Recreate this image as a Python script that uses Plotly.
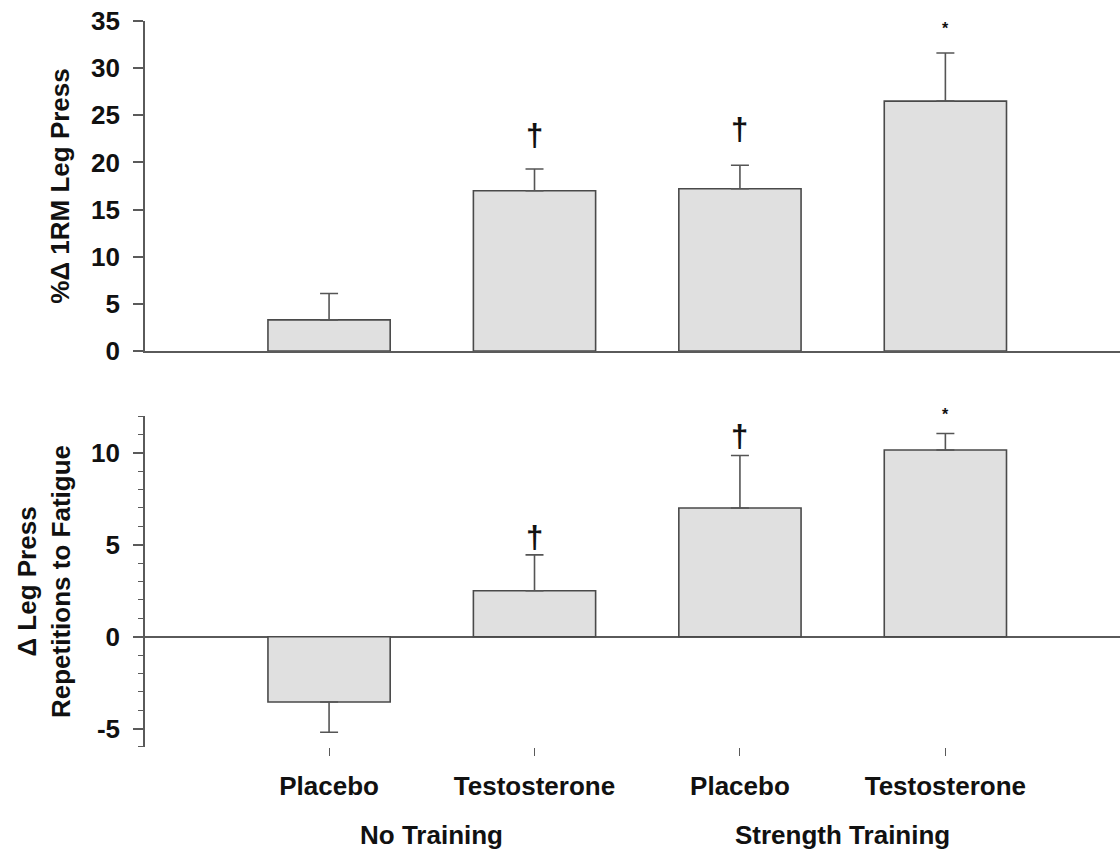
import plotly.graph_objects as go

# ---- data ----
categories = ["Placebo", "Testosterone", "Placebo", "Testosterone"]
groups = ["No Training", "Strength Training"]
rm_change = [3.3, 17.0, 17.2, 26.5]          # %Δ 1RM leg press
rm_err = [2.8, 2.3, 2.5, 5.1]
reps_change = [-3.55, 2.5, 7.0, 10.15]       # Δ repetitions to fatigue
reps_err = [1.65, 1.95, 2.85, 0.9]
rm_marks = ["", "†", "†", "*"]
reps_marks = ["", "†", "†", "*"]
reps_ticks = [-5, 0, 5, 10]
reps_ticktext = ["-5", "0", "5", "10"]

# ---- style ----
FONT = "Liberation Sans, Arial, sans-serif"
BAR_FILL = "#e0e0e0"
BAR_LINE = "#4a4a4a"
AX = "#5a5a5a"
FS = 26
mark_shift_top = [0, 14, 16, 14]
mark_shift_bot = [0, -2, 0, 8]

xs = list(range(len(categories)))


def up_err(vals, errs):
    return [e if v >= 0 else 0 for v, e in zip(vals, errs)]


def down_err(vals, errs):
    return [0 if v >= 0 else e for v, e in zip(vals, errs)]


fig = go.Figure()

fig.add_trace(go.Bar(
    x=xs, y=rm_change, width=0.595, xaxis="x", yaxis="y",
    marker=dict(color=BAR_FILL, line=dict(color=BAR_LINE, width=1.6)),
    error_y=dict(type="data", symmetric=False, array=up_err(rm_change, rm_err),
                 arrayminus=down_err(rm_change, rm_err),
                 color="#555555", thickness=1.6, width=9),
    showlegend=False, hoverinfo="skip"))

fig.add_trace(go.Bar(
    x=xs, y=reps_change, width=0.595, xaxis="x2", yaxis="y2",
    marker=dict(color=BAR_FILL, line=dict(color=BAR_LINE, width=1.6)),
    error_y=dict(type="data", symmetric=False, array=up_err(reps_change, reps_err),
                 arrayminus=down_err(reps_change, reps_err),
                 color="#555555", thickness=1.6, width=9),
    showlegend=False, hoverinfo="skip"))


def mark_font(m):
    return dict(family=FONT, size=31 if m == "†" else 16, color="#111111", weight=700)


annotations = []
for i, (v, e, m) in enumerate(zip(rm_change, rm_err, rm_marks)):
    if m:
        annotations.append(dict(
            x=i, y=v + e, xref="x", yref="y", text=m, showarrow=False,
            yanchor="bottom", yshift=mark_shift_top[i], font=mark_font(m)))
for i, (v, e, m) in enumerate(zip(reps_change, reps_err, reps_marks)):
    if m:
        annotations.append(dict(
            x=i, y=v + e, xref="x2", yref="y2", text=m, showarrow=False,
            yanchor="bottom", yshift=mark_shift_bot[i], font=mark_font(m)))

# group labels
for gi, g in enumerate(groups):
    annotations.append(dict(
        x=(xs[2 * gi] + xs[2 * gi + 1]) / 2, y=-0.121, xref="x2", yref="paper",
        text=g, showarrow=False, yanchor="middle",
        font=dict(family=FONT, size=FS, color="#111111", weight=700)))

xr = [-0.896, 3.85]
tickfont = dict(family=FONT, size=FS, color="#111111", weight=700)

fig.update_layout(
    width=1120, height=854,
    margin=dict(l=145, r=0, t=21, b=107),
    paper_bgcolor="white", plot_bgcolor="white",
    bargap=0.4,
    annotations=annotations,
    xaxis=dict(domain=[0, 1], range=xr, anchor="y", showline=True, linecolor=AX,
               linewidth=2, showticklabels=False, ticks="", showgrid=False, zeroline=False),
    yaxis=dict(domain=[0.5455, 1], range=[0, 35], anchor="x", tick0=0, dtick=5,
               showline=True, linecolor=AX, linewidth=1.6, ticks="outside", ticklen=10,
               tickwidth=1.6, tickcolor=AX, showgrid=False, zeroline=False,
               tickfont=tickfont, ticklabelstandoff=8,
               title=dict(text="%Δ 1RM Leg Press", standoff=14, font=tickfont)),
    xaxis2=dict(domain=[0, 1], range=xr, anchor="y2", showline=False,
                tickmode="array", tickvals=xs, ticktext=categories,
                ticks="outside", ticklen=8, tickwidth=1.4, tickcolor=AX,
                ticklabelstandoff=8,
                showgrid=False, zeroline=False, tickfont=tickfont),
    yaxis2=dict(domain=[0, 0.4559], range=[-6, 12], anchor="x2",
                tickmode="array", tickvals=reps_ticks, ticktext=reps_ticktext,
                showline=True, linecolor=AX, linewidth=1.6, ticks="outside", ticklen=10,
                tickwidth=1.6, tickcolor=AX, showgrid=False,
                zeroline=True, zerolinecolor=AX, zerolinewidth=2,
                minor=dict(tickmode="linear", dtick=1, tick0=0, ticks="outside", ticklen=5,
                           tickwidth=1.2, tickcolor=AX, showgrid=False),
                tickfont=tickfont, ticklabelstandoff=8,
                title=dict(text="Δ Leg Press<br>Repetitions to Fatigue", standoff=13,
                           font=tickfont)),
)

fig.write_html("out.html")
